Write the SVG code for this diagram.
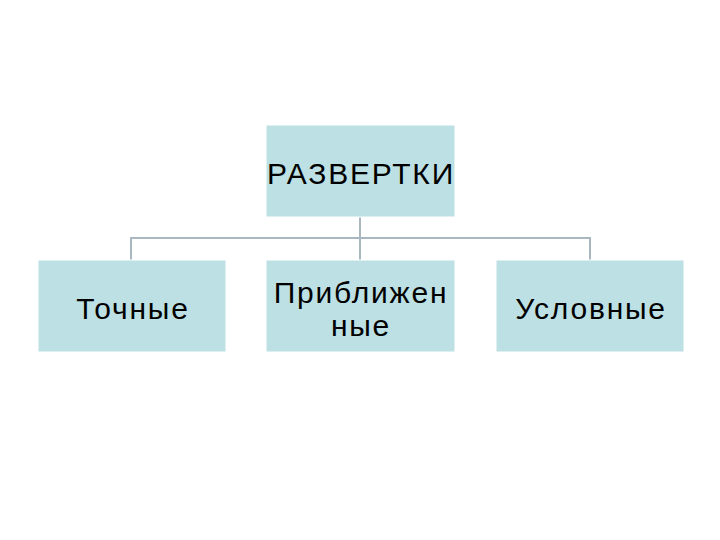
<svg xmlns="http://www.w3.org/2000/svg" width="720" height="540" viewBox="0 0 720 540">
<style>
.box{fill:#bde0e4;stroke:#ffffff;stroke-width:1}
.t{font-family:"Liberation Sans",Arial,sans-serif;font-size:30px;letter-spacing:1.8px;fill:#000;text-anchor:middle}
.c{fill:none;stroke:#a9b8c0;stroke-width:2}
</style>
<rect width="720" height="540" fill="#fff"/>
<g id="connectors">
<path class="c" d="M360 217V238M131 260V238H590V260M360 238V260"/>
</g>
<g id="root"><rect class="box" x="266" y="125" width="189" height="92"/><text class="t" x="361" y="184">РАЗВЕРТКИ</text></g>
<g id="n1"><rect class="box" x="38" y="260" width="188" height="92"/><text class="t" x="133" y="319">Точные</text></g>
<g id="n2"><rect class="box" x="266" y="260" width="189" height="92"/><text class="t" x="361" y="303">Приближен</text><text class="t" x="361" y="336">ные</text></g>
<g id="n3"><rect class="box" x="496" y="260" width="188" height="92"/><text class="t" x="591" y="319">Условные</text></g>
</svg>
